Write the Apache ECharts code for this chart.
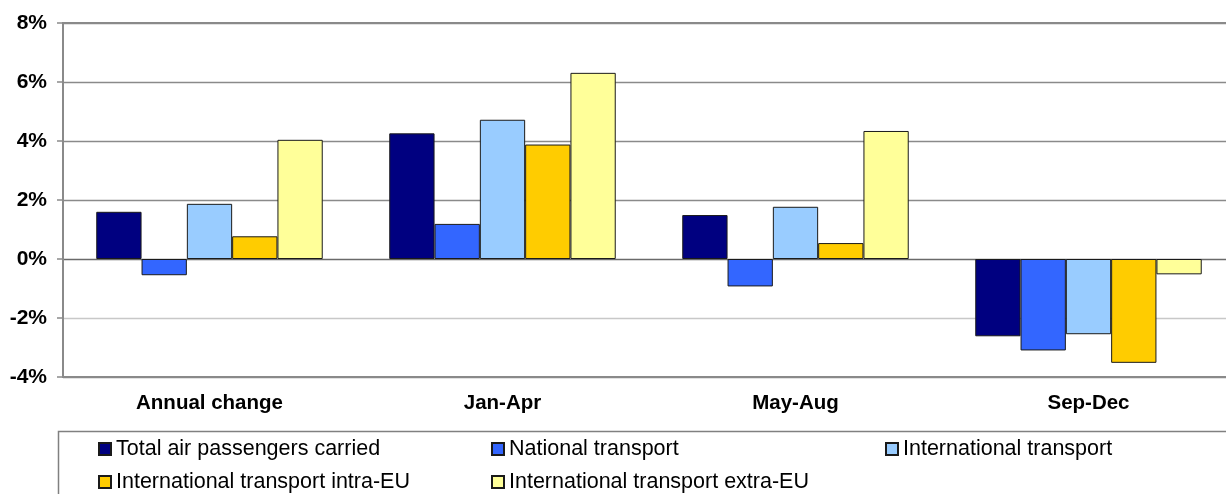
<!DOCTYPE html>
<html>
<head>
<meta charset="utf-8">
<script src="https://cdn.jsdelivr.net/npm/echarts@6/dist/echarts.min.js"></script>
<style>
html,body{margin:0;padding:0;background:#fff;overflow:hidden;width:1226px;height:494px;}
#chart{width:1240px;height:494px;}
</style>
</head>
<body>
<div id="chart"></div>
<script>
const categories = ['Annual change', 'Jan-Apr', 'May-Aug', 'Sep-Dec'];
const seriesNames = [
  'Total air passengers carried',
  'National transport',
  'International transport',
  'International transport intra-EU',
  'International transport extra-EU'
];
const totalPassengers = [1.60, 4.26, 1.49, -2.62];
const nationalTransport = [-0.55, 1.19, -0.93, -3.10];
const internationalTransport = [1.87, 4.72, 1.77, -2.55];
const intraEU = [0.77, 3.88, 0.54, -3.52];
const extraEU = [4.04, 6.31, 4.34, -0.52];
const yTicks = { min: -4, max: 8, interval: 2 };

const colors = ['#000080', '#3366FF', '#99CCFF', '#FFCC00', '#FFFF99'];
const values = [totalPassengers, nationalTransport, internationalTransport, intraEU, extraEU];
const FONT = "'Liberation Sans', Arial, sans-serif";

// legend slot layout (3 columns x 2 rows)
const legendCols = [98, 491, 885];
const legendRows = [432, 465];

const chart = echarts.init(document.getElementById('chart'), null, { renderer: 'canvas' });
chart.setOption({
  animation: false,
  backgroundColor: '#fff',
  color: colors,
  grid: {
    left: 63, top: 23, width: 1172, height: 354,
    show: true, borderColor: '#8a8a8a', borderWidth: 2, backgroundColor: 'transparent'
  },
  legend: seriesNames.map((name, i) => ({
    left: legendCols[i % 3], top: legendRows[Math.floor(i / 3)],
    padding: 0,
    orient: 'horizontal',
    itemWidth: 12, itemHeight: 12, itemGap: 0,
    icon: 'rect',
    data: [name],
    textStyle: { fontFamily: FONT, fontSize: 21.5, color: '#000', lineHeight: 34 },
    selectedMode: false
  })),
  graphic: [{
    type: 'rect', silent: true, z: -1,
    shape: { x: 58.5, y: 431.5, width: 1300, height: 200 },
    style: { fill: 'none', stroke: '#808080', lineWidth: 1.5 }
  }],
  xAxis: {
    type: 'category',
    data: categories,
    axisLine: { show: true, onZero: false, lineStyle: { color: '#8a8a8a', width: 2 } },
    axisTick: { show: false },
    axisLabel: { fontFamily: FONT, fontSize: 20.5, fontWeight: 'bold', color: '#000', margin: 16 },
    splitLine: { show: false }
  },
  yAxis: {
    type: 'value',
    min: yTicks.min, max: yTicks.max, interval: yTicks.interval,
    axisLine: { show: true, lineStyle: { color: '#8a8a8a', width: 2 } },
    axisTick: { show: true, length: 6, lineStyle: { color: '#8a8a8a', width: 1.5 } },
    axisLabel: {
      fontFamily: FONT, fontSize: 21, fontWeight: 'bold', color: '#000', margin: 16,
      formatter: v => v + '%'
    },
    splitLine: {
      show: true,
      lineStyle: { color: ['#8a8a8a', '#c8c8c8', '#6a6a6a', '#8a8a8a', '#8a8a8a', '#8a8a8a', '#8a8a8a'], width: 1.3 }
    }
  },
  series: seriesNames.map((name, i) => ({
    name: name,
    type: 'bar',
    data: values[i],
    barGap: '0%',
    barCategoryGap: '22.7%',
    itemStyle: { color: colors[i], borderColor: '#1a1a1a', borderWidth: 1 }
  }))
});
</script>
</body>
</html>
